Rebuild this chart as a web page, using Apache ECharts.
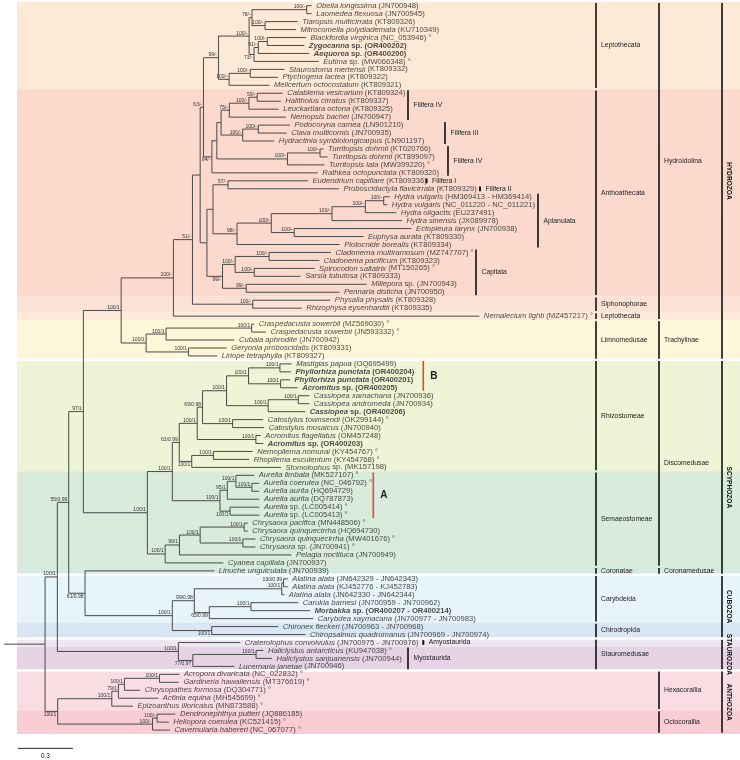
<!DOCTYPE html>
<html>
<head>
<meta charset="utf-8">
<title>Medusozoa mitogenome tree</title>
<script src="https://cdn.jsdelivr.net/npm/echarts@6.0.0/dist/echarts.min.js"></script>
<style>
  html, body { margin: 0; padding: 0; background: #fff; }
  #chart { width: 740px; height: 760px; }
</style>
</head>
<body>
<div id="chart"></div>
<script>
// ---- data -------------------------------------------------------------
// taxa, top to bottom ("*" = bold, "|" splits italic name from the rest)
const leafNames = [
  'Obelia longissima| (JN700948)', 'Laomedea flexuosa| (JN700945)',
  'Tiaropsis multicirrata| (KT809326)', 'Mitrocomella polydiademata| (KU710349)',
  'Blackfordia virginica| (NC_053946) °', '*Zygocanna| sp. (OR400202)',
  '*Aequorea| sp. (OR400200)', 'Eutima| sp. (MW066348) °',
  'Staurostoma mertensii| (KT809332)', 'Ptychogena lactea| (KT809322)',
  'Melicertum octocostatum| (KT809321)', 'Catablema vesicarium| (KT809324)',
  'Halitholus cirratus| (KT809337)', 'Leuckartiara octona| (KT809325)',
  'Nemopsis bachei| (JN700947)', 'Podocoryna carnea| (LN901210)',
  'Clava multicornis| (JN700935)', 'Hydractinia symbiolongicarpus| (LN901197)',
  'Turritopsis dohrnii| (KT020766)', 'Turritopsis dohrnii| (KT899097)',
  'Turritopsis lata| (MW399220) °', 'Rathkea octopunctata| (KT809320)',
  'Eudendrium capillare| (KT809336)', 'Proboscidactyla flavicirrata| (KT809329)',
  'Hydra vulgaris| (HM369413 - HM369414)', 'Hydra vulgaris| (NC_011220 - NC_011221)',
  'Hydra oligactis| (EU237491)', 'Hydra sinensis| (JX089978)',
  'Ectopleura larynx| (JN700938)', 'Euphysa aurata| (KT809330)',
  'Plotocnide borealis| (KT809334)', 'Cladonema multiramosum| (MZ747707) °',
  'Cladonema pacificum| (KT809323)', 'Spirocodon saltatrix| (MT150265) °',
  'Sarsia tubulosa| (KT809333)', 'Millepora| sp. (JN700943)',
  'Pennaria disticha| (JN700950)', 'Physalia physalis| (KT809328)',
  'Rhizophysa eysenhardtii| (KT809335)', 'Nemalecium lighti| (MZ457217) °',
  'Craspedacusta sowerbii| (MZ569030) °', 'Craspedacusta sowerbii| (JN593332) °',
  'Cubaia aphrodite| (JN700942)', 'Geryonia proboscidalis| (KT809331)',
  'Liriope tetraphylla| (KT809327)', 'Mastigias papua| (OQ695499)',
  '*Phyllorhiza punctata| (OR400204)', '*Phyllorhiza punctata| (OR400201)',
  '*Acromitus| sp. (OR400205)', 'Cassiopea xamachana| (JN700936)',
  'Cassiopea andromeda| (JN700934)', '*Cassiopea| sp. (OR400206)',
  'Catostylus townsendi| (OK299144) °', 'Catostylus mosaicus| (JN700940)',
  'Acromitus flagellatus| (OM457248)', '*Acromitus| sp. (OR400203)',
  'Nemopilema nomurai| (KY454767) °', 'Rhopilema esculentum| (KY454768) °',
  'Stomolophus| sp. (MK157198)', 'Aurelia limbata| (MK527107) °',
  'Aurelia coerulea| (NC_046792) °', 'Aurelia aurita| (HQ694729)',
  'Aurelia aurita| (DQ787873)', 'Aurelia| sp. (LC005414) °',
  'Aurelia| sp. (LC005413) °', 'Chrysaora pacifica| (MN448506) °',
  'Chrysaora quinquecirrha| (HQ694730)', 'Chrysaora quinquecirrha| (MW401676) °',
  'Chrysaora| sp. (JN700941) °', 'Pelagia noctiluca| (JN700949)',
  'Cyanea capillata| (JN700937)', 'Linuche unguiculata| (JN700939)',
  'Alatina alata| (JN642329 - JN642343)', 'Alatina alata| (KJ452776 - KJ452783)',
  'Alatina alata| (JN642330 - JN642344)', 'Carukia barnesi| (JN700959 - JN700962)',
  '*Morbakka| sp. (OR400207 - OR400214)', 'Carybdea xaymacana| (JN700977 - JN700983)',
  'Chironex fleckeri| (JN700963 - JN700968)', 'Chiropsalmus quadrumanus| (JN700969 - JN700974)',
  'Craterolophus convolvulus| (JN700975 - JN700976)', 'Haliclystus antarcticus| (KU947038) °',
  'Haliclystus sanjuanensis| (JN700944)', 'Lucernaria janetae| (JN700946)',
  'Acropora divaricata| (NC_022832) °', 'Gardineria hawaiiensis| (MT376619) °',
  'Chrysopathes formosa| (DQ304771) °', 'Actinia equina| (MH545699) °',
  'Epizoanthus illoricatus| (MN873588) °', 'Dendronephthya putteri| (JQ886185)',
  'Heliopora coerulea| (KC521415) °', 'Cavernularia habereri| (NC_067077) °'
];

// tree pieces in Newick (leaves = row numbers above, branch lengths in subst./site)
const leptothecata = '((((0:0.027,1:0.027)100/-:0.298,(2:0.178,3:0.169)100/-:0.071)78/-:0.016,(((4:0.211,5:0.202)100/-:0.049,6:0.278)91/-:0.023,7:0.353)73/-:0.027)100/-:0.167,((8:0.187,9:0.151)100/-:0.115,10:0.220)100/-:0.058)99/-:0.082';
const filifera = '((((((11:0.139,12:0.129)59/-:0.045,13:0.162)100/-:0.107,14:0.309)75/-:0.045,((15:0.173,16:0.155)100/-:0.085,17:0.172)100/-:0.118):0.023,((18:0.019,19:0.041)100/-:0.178,20:0.202)100/-:0.385):0.027,21:0.578)94/-:0.046';
const aplanCapit = '(((22:0.436,23:0.605)57/-:0.082,(((((24:0.033,25:0.019)100/-:0.100,26:0.169)100/-:0.182,27:0.382)100/-:0.331,(28:0.640,29:0.378)100/-:0.125)100/-:0.187,30:0.560)98/-:0.131):0.033,(((31:0.338,32:0.274)100/-:0.185,(33:0.329,34:0.253)100/-:0.104)100/-:0.069,(35:0.658,36:0.509)99/-:0.129)99/-:0.085):0.037';
const trachylinae = '(((40:0.014,41:0.078)100/1:0.467,42:0.373)100/1:0.109,(43:0.209,44:0.157)100/1:0.231)100/1:0.136';
const rhizostomeae = '((((((45:0.064,46:0.060)100/1:0.171,(47:0.051,48:0.093)100/1:0.175)100/1:0.120,((49:0.060,50:0.060)100/1:0.164,51:0.202)100/1:0.227)100/1:0.131,(52:0.167,53:0.172)100/1:0.164)69/0.98:0.029,(54:0.027,55:0.040)100/1:0.320)100/1:0.098,((56:0.215,57:0.196)100/1:0.118,58:0.487)100/1:0.068)63/0.99:0.038';
const aurelia = '(((59:0.100,(60:0.040,61:0.040)100/1:0.087)100/1:0.047,62:0.175)95/1:0.040,(63:0.160,64:0.160)100/1:0.055)100/1:0.260';
const pelagiidae = '((((65:0.020,66:0.020)100/1:0.240,(67:0.069,68:0.069)100/1:0.233)100/1:0.113,69:0.611)99/1:0.078,70:0.318)100/1:0.097';
const cuboCoronatae = '(71:0.705,((((72:0.023,73:0.023)100/0.99:0.010,74:0.014)100/1:0.477,((75:0.258,76:0.323)100/1:0.227,77:0.567)65/0.99:0.082)99/0.98:0.120,(78:0.363,79:0.511)100/1:0.215)100/1:0.476)61/0.98:0.089';
const staurozoa = '(80:0.338,((81:0.040,82:0.087)100/1:0.345,83:0.227)77/0.97:0.079)100/1:0.660';
const anthozoa = '(((((84:0.109,85:0.106)100/1:0.191,86:0.086)100/1:0.033,87:0.218)79/1:0.036,88:0.115)100/1:0.295,((89:0.100,90:0.064)100/-:0.025,91:0.095)100/-:0.517)100/1:0.069';

const hydroidolina = '((((' + leptothecata + ',' + filifera + ')63/-:0.018,' + aplanCapit +
  '):0.042,(37:0.423,38:0.267)100/-:0.329)51/-:0.104,39:1.669)100/-:0.285';
const hydrozoa = '(' + hydroidolina + ',' + trachylinae + ')100/1:0.206';
const discomedusae = '((' + rhizostomeae + ',' + aurelia + ')100/1:0.136,' + pelagiidae + ')100/1:0.349';
const treeNewick = '((((' + hydrozoa + ',' + discomedusae + ')97/1:0.080,' + cuboCoronatae +
  ')55/0.99:0.062,' + staurozoa + ')100/1:0.067,' + anthozoa + '):0.224';

// support values written under their branch (clade given as first-last row)
const belowLabels = ['4-7', '11-21', '31-36', '56-58', '63-64', '71-79', '75-77', '78-79', '81-83', '84-91'];

// shaded rows [first, last]
const bandRows = [[0, 10], [11, 36], [37, 38], [39, 39], [40, 44], [45, 58], [59, 70], [71, 71],
  [72, 77], [78, 79], [80, 80], [81, 83], [84, 88], [89, 91]];

// right-hand classification columns [label, first row, last row]
const orderCol = [['Leptothecata', 0, 10], ['Anthoathecata', 11, 36], ['Siphonophorae', 37, 38],
  ['Leptothecata', 39, 39], ['Limnomedusae', 40, 44], ['Rhizostomeae', 45, 58],
  ['Semaeostomeae', 59, 70], ['Coronatae', 71, 71], ['Carybdeida', 72, 77],
  ['Chirodropida', 78, 79], ['Stauromedusae', 80, 83]];
const subclassCol = [['Hydroidolina', 0, 39], ['Trachylinae', 40, 44], ['Discomedusae', 45, 70],
  ['Coronamedusae', 71, 71], ['Hexacorallia', 84, 88], ['Octocorallia', 89, 91]];
const classCol = [['HYDROZOA', 0, 44], ['SCYPHOZOA', 45, 71], ['CUBOZOA', 72, 79],
  ['STAUROZOA', 80, 83], ['ANTHOZOA', 84, 91]];

// brackets inside the tree [label, first row, last row]
const cladeBars = [['Filifera IV', 11, 14], ['Filifera III', 15, 17], ['Filifera IV', 18, 21],
  ['Filifera I', 22, 22], ['Filifera II', 23, 23], ['Aplanulata', 24, 30], ['Capitata', 31, 36],
  ['B', 45, 48], ['A', 59, 64], ['Amyostaurida', 80, 80], ['Myostaurida', 81, 83]];

const scaleLength = 0.3;

// ---- layout / style ---------------------------------------------------
const FONT = "'Liberation Sans', Arial, sans-serif";
const TAXON_SIZE = 7.65;
const PX_PER_UNIT = 183.33, ROW = 7.96, TOP0 = 5.7;
const bandColors = ['#fdead6', '#fbd9cd', '#fce2d5', '#fdeada', '#fef6d8', '#eef4d6', '#d9ebda',
  '#d4eae2', '#e7f4f9', '#d9e7f4', '#ede7f2', '#e6d4e6', '#fadde3', '#f8cdd3'];
const BAND_LEFT = 17;
const colLineX = [596, 659, 722];
const colTextX = [601, 664, 728.5];
const classLabelShift = [0, 20, 0, 0, 0];
const cladeBarX = [408, 445, 448, 426.5, 480, 538, 476, 423.3, 373.3, 423.3, 408];
const cladeBarColor = ['#111', '#111', '#111', '#111', '#111', '#111', '#111', '#e8453c', '#e8453c', '#111', '#111'];
const scaleStart = 0.076, scaleRow = 93.3;

// ---- tree -------------------------------------------------------------
function parseNewick(s) {
  let i = 0;
  function node() {
    const n = { children: [], name: '', len: 0 };
    if (s[i] === '(') {
      i++;
      n.children.push(node());
      while (s[i] === ',') { i++; n.children.push(node()); }
      i++;
    }
    while (i < s.length && ':,);'.indexOf(s[i]) < 0) n.name += s[i++];
    if (s[i] === ':') {
      i++;
      let num = '';
      while (i < s.length && ',);'.indexOf(s[i]) < 0) num += s[i++];
      n.len = parseFloat(num);
    }
    return n;
  }
  return node();
}

const tree = parseNewick(treeNewick);
function place(n, px) {
  n.x = px + n.len;
  if (!n.children.length) { n.y = n.first = n.last = Number(n.name); return; }
  n.children.forEach(c => place(c, n.x));
  const a = n.children[0], b = n.children[n.children.length - 1];
  n.y = (a.y + b.y) / 2; n.first = a.first; n.last = b.last;
}
place(tree, 0);

const branchSegs = [], supportMarks = [], tipMarks = [];
function collect(n, px) {
  branchSegs.push([px, n.y, n.x, n.y]);
  if (n.children.length) {
    const a = n.children[0], b = n.children[n.children.length - 1];
    branchSegs.push([n.x, a.y, n.x, b.y]);
    if (n.name) supportMarks.push([n.x, n.y, n.name, belowLabels.indexOf(n.first + '-' + n.last) >= 0]);
    n.children.forEach(c => collect(c, n.x));
  } else {
    tipMarks[n.y] = [n.x, n.y];
  }
}
collect(tree, 0);

const classEnds = classCol.slice(0, -1).map(c => c[2]);

function taxonLabel(s) {
  const bold = s[0] === '*';
  if (bold) s = s.slice(1);
  const parts = s.split('|');
  return bold ? '{bi|' + parts[0] + '}{bn|' + parts[1] + '}' : '{i|' + parts[0] + '}{n|' + parts[1] + '}';
}

const groupSegs = [];
[orderCol, subclassCol, classCol].forEach((col, ci) => col.forEach((g, k) => groupSegs.push({ col: ci, k: k, label: g[0], first: g[1], last: g[2] })));

const chart = echarts.init(document.getElementById('chart'));
const txt = (size, extra) => Object.assign({ fontSize: size, fontFamily: FONT, color: '#222' }, extra || {});

chart.setOption({
  animation: false,
  grid: { left: 4, right: 0, top: 0, bottom: 0 },
  xAxis: { type: 'value', min: 0, max: 736 / PX_PER_UNIT, show: false },
  yAxis: { type: 'value', inverse: true, min: -TOP0 / ROW, max: (760 - TOP0) / ROW, show: false },
  series: [
    {
      type: 'custom', name: 'bands', silent: true, z: 0,
      data: bandRows.map((b, i) => [i, 0]),
      renderItem: (p, api) => {
        const b = bandRows[p.dataIndex];
        const top = api.coord([0, b[0] - 0.5])[1] + (classEnds.indexOf(b[0] - 1) >= 0 ? 1.3 : 0);
        const bot = api.coord([0, b[1] + 0.5])[1] - (classEnds.indexOf(b[1]) >= 0 ? 1.3 : 0);
        return { type: 'rect', shape: { x: BAND_LEFT, y: top, width: 740 - BAND_LEFT, height: bot - top },
          style: { fill: bandColors[p.dataIndex] } };
      }
    },
    {
      type: 'custom', name: 'branches', silent: true, z: 2,
      data: branchSegs.map((s, i) => [i, 0]),
      renderItem: (p, api) => {
        const s = branchSegs[p.dataIndex];
        const a = api.coord([s[0], s[1]]), b = api.coord([s[2], s[3]]);
        return { type: 'line', shape: { x1: a[0], y1: a[1], x2: b[0], y2: b[1] },
          style: { stroke: '#4a4a4a', lineWidth: 1 } };
      }
    },
    {
      type: 'scatter', name: 'taxa', silent: true, z: 3,
      data: tipMarks, symbolSize: 1, itemStyle: { color: 'rgba(0,0,0,0)' },
      label: {
        show: true, position: 'right', distance: 4,
        formatter: p => taxonLabel(leafNames[p.dataIndex]),
        rich: {
          i: txt(TAXON_SIZE, { fontStyle: 'italic' }),
          n: txt(TAXON_SIZE),
          bi: txt(TAXON_SIZE, { fontStyle: 'italic', fontWeight: 'bold' }),
          bn: txt(TAXON_SIZE, { fontWeight: 'bold' })
        }
      }
    },
    {
      type: 'custom', name: 'support', silent: true, z: 3,
      data: supportMarks.map((s, i) => [i, 0]),
      renderItem: (p, api) => {
        const s = supportMarks[p.dataIndex];
        const c = api.coord([s[0], s[1]]);
        return { type: 'text', x: c[0] - 1.5, y: s[3] ? c[1] + 0.6 : c[1] - 0.4,
          style: { text: s[2], font: '5px ' + FONT, fill: '#333', align: 'right', verticalAlign: s[3] ? 'top' : 'bottom' } };
      }
    },
    {
      type: 'custom', name: 'groups', silent: true, z: 3,
      data: groupSegs.map((g, i) => [i, 0]),
      renderItem: (p, api) => {
        const g = groupSegs[p.dataIndex];
        const y0 = api.coord([0, g.first - 0.5])[1] + 1.2;
        const y1 = api.coord([0, g.last + 0.5])[1] - 1.2;
        const x = colLineX[g.col], cy = (y0 + y1) / 2;
        const kids = [{ type: 'line', shape: { x1: x, y1: y0, x2: x, y2: y1 }, style: { stroke: '#111', lineWidth: 1.6 } }];
        if (g.col < 2) {
          kids.push({ type: 'text', x: colTextX[g.col], y: cy,
            style: { text: g.label, font: '6.8px ' + FONT, fill: '#222', align: 'left', verticalAlign: 'middle' } });
        } else {
          kids.push({ type: 'text', x: colTextX[2], y: cy + classLabelShift[g.k], rotation: -Math.PI / 2,
            style: { text: g.label, font: 'bold 6.6px ' + FONT, fill: '#111', align: 'center', verticalAlign: 'middle' } });
        }
        return { type: 'group', children: kids };
      }
    },
    {
      type: 'custom', name: 'clades', silent: true, z: 3,
      data: cladeBars.map((c, i) => [i, 0]),
      renderItem: (p, api) => {
        const c = cladeBars[p.dataIndex];
        const single = c[1] === c[2];
        const inset = single ? 1.6 : 1;
        const y0 = api.coord([0, c[1] - 0.5])[1] + inset;
        const y1 = api.coord([0, c[2] + 0.5])[1] - inset;
        const x = cladeBarX[p.dataIndex], cy = (y0 + y1) / 2;
        const letter = c[0].length === 1;
        return { type: 'group', children: [
          { type: 'line', shape: { x1: x, y1: y0, x2: x, y2: y1 },
            style: { stroke: cladeBarColor[p.dataIndex], lineWidth: single ? 2 : 1.6 } },
          { type: 'text', x: x + (letter ? 7 : 5.5), y: cy,
            style: { text: c[0], font: (letter ? 'bold 10px ' : '6.8px ') + FONT, fill: '#222', align: 'left', verticalAlign: 'middle' } }
        ] };
      }
    },
    {
      type: 'custom', name: 'scale', silent: true, z: 3,
      data: [[0, 0]],
      renderItem: (p, api) => {
        const a = api.coord([scaleStart, scaleRow]), b = api.coord([scaleStart + scaleLength, scaleRow]);
        return { type: 'group', children: [
          { type: 'line', shape: { x1: a[0], y1: a[1], x2: b[0], y2: b[1] }, style: { stroke: '#222', lineWidth: 1 } },
          { type: 'text', x: (a[0] + b[0]) / 2, y: a[1] + 4.5,
            style: { text: String(scaleLength), font: '6.5px ' + FONT, fill: '#222', align: 'center', verticalAlign: 'top' } }
        ] };
      }
    }
  ]
});
</script>
</body>
</html>
